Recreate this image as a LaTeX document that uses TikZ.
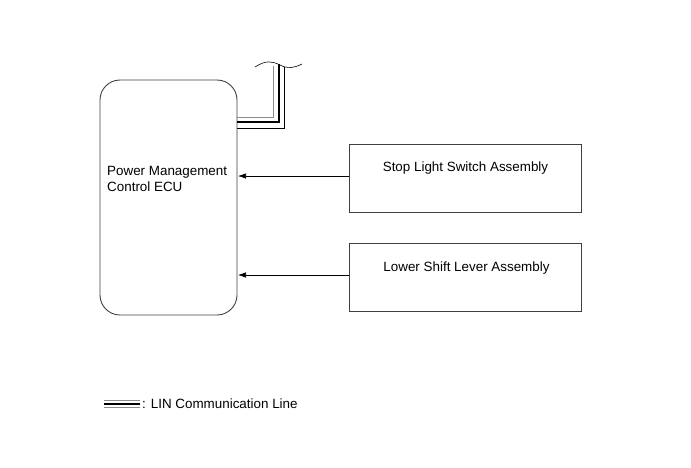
\documentclass[tikz,border=0pt]{standalone}
\usepackage{fontspec}
\setmainfont{Liberation Sans}
\usetikzlibrary{arrows.meta}
\begin{document}
\begin{tikzpicture}[x=1pt,y=-1pt,
  box/.style={draw=black!75, line width=0.9pt, inner sep=0pt},
  lbl/.style={font=\fontsize{13.4}{16}\selectfont, inner sep=0pt, anchor=base west},
  sig/.style={draw=black, line width=0.6pt, -{Latex[length=8pt,width=5.5pt]}},
  lingray/.style={draw=black!45, line width=0.7pt},
  linthick/.style={draw=black, line width=2pt},
  linthin/.style={draw=black, line width=0.6pt}]
\useasboundingbox (0,0) rectangle (691,467);
% ECU
\draw[box, rounded corners=20pt] (100,80) rectangle (237,315);
\node[lbl] (t1) at (107,175) {Power Management};
\node[lbl] (t2) at (107,191) {Control ECU};
% right boxes
\node[box, draw, minimum width=232pt, minimum height=68pt, anchor=north west] (stop) at (349,144) {};
\node[lbl, anchor=base] (stopt) at (465.5,171) {Stop Light Switch Assembly};
\node[box, draw, minimum width=232pt, minimum height=68pt, anchor=north west] (low) at (349,243) {};
\node[lbl, anchor=base] (lowt) at (466.5,271) {Lower Shift Lever Assembly};
% arrows
\coordinate (a1) at (238,176);
\coordinate (a2) at (238,275);
\draw[sig] (stop.west |- a1) -- (a1);
\draw[sig] (low.west |- a2) -- (a2);
% LIN bus
\draw[lingray] (237,117) -- (273.5,117) -- (273.5,65.5);
\draw[linthick] (237,122) -- (279,122) -- (279,64);
\draw[linthin] (237,128.5) -- (284.5,128.5) -- (284.5,66.5);
\draw[black, line width=0.6pt] (255,67) .. controls (266,60) and (272,61) .. (280,65) .. controls (288,69) and (294,68) .. (302,64);
% legend
\draw[lingray] (104,400) -- (140,400);
\draw[linthick] (104,403.5) -- (140,403.5);
\draw[lingray] (104,407) -- (140,407);
\node[lbl] (leg) at (142,408) {: LIN Communication Line};
\end{tikzpicture}
\end{document}
